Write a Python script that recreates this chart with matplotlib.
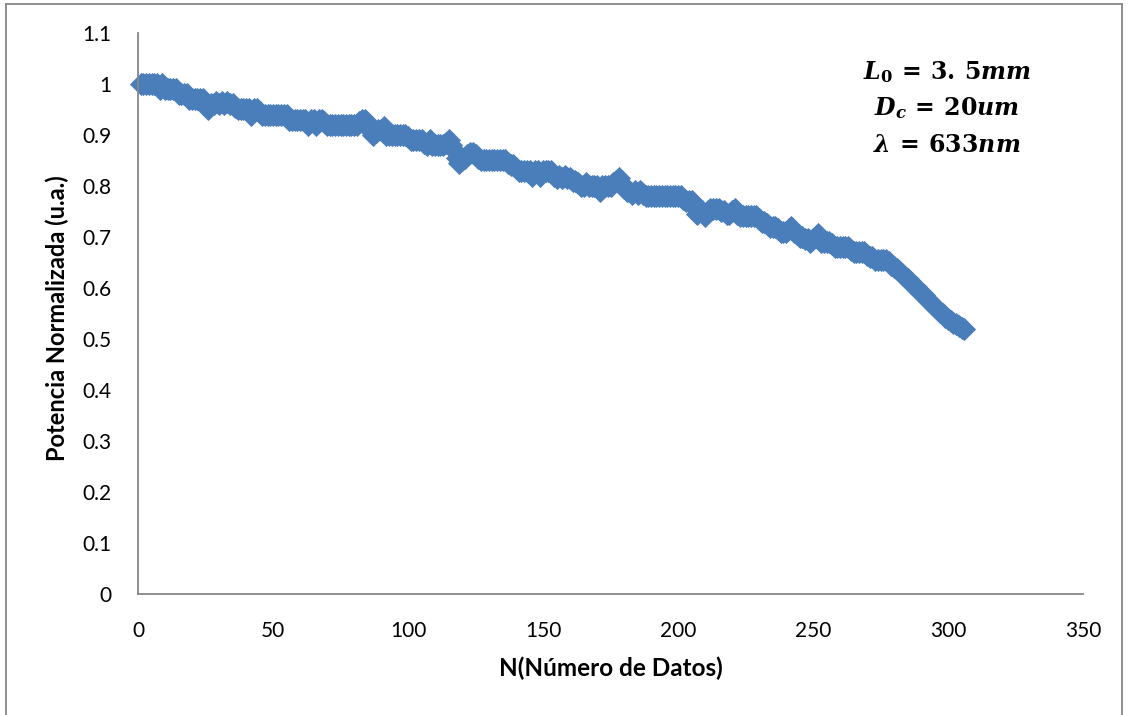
import matplotlib
matplotlib.use("Agg")
import matplotlib.pyplot as plt
from matplotlib.lines import Line2D

# ---------------- data ----------------
x_first = 1
potencia = [
    1.00, 1.00, 1.00, 1.00, 1.00, 1.00, 1.00, 0.99, 1.00, 0.99,
    0.99, 0.99, 0.99, 0.99, 0.98, 0.98, 0.98, 0.98, 0.97, 0.97,
    0.97, 0.97, 0.97, 0.97, 0.96, 0.95, 0.96, 0.96, 0.965, 0.96,
    0.965, 0.96, 0.965, 0.96, 0.96, 0.955, 0.95, 0.95, 0.95, 0.95,
    0.95, 0.94, 0.95, 0.95, 0.945, 0.94, 0.94, 0.94, 0.94, 0.94,
    0.94, 0.94, 0.94, 0.94, 0.94, 0.93, 0.93, 0.93, 0.93, 0.93,
    0.93, 0.93, 0.92, 0.93, 0.93, 0.92, 0.93, 0.93, 0.925, 0.92,
    0.92, 0.92, 0.92, 0.92, 0.92, 0.92, 0.92, 0.92, 0.92, 0.92,
    0.92, 0.925, 0.93, 0.93, 0.92, 0.91, 0.90, 0.905, 0.91, 0.91,
    0.915, 0.90, 0.90, 0.90, 0.90, 0.90, 0.90, 0.90, 0.90, 0.895,
    0.89, 0.89, 0.89, 0.89, 0.89, 0.885, 0.88, 0.89, 0.88, 0.88,
    0.88, 0.88, 0.88, 0.885, 0.89, 0.88, 0.87, 0.855, 0.845, 0.85,
    0.855, 0.86, 0.865, 0.865, 0.86, 0.855, 0.85, 0.85, 0.85, 0.85,
    0.85, 0.85, 0.85, 0.85, 0.85, 0.85, 0.845, 0.84, 0.84, 0.835,
    0.83, 0.83, 0.83, 0.83, 0.83, 0.82, 0.83, 0.83, 0.82, 0.83,
    0.83, 0.83, 0.83, 0.82, 0.815, 0.82, 0.815, 0.82, 0.815, 0.815,
    0.81, 0.81, 0.805, 0.80, 0.80, 0.805, 0.80, 0.80, 0.80, 0.80,
    0.79, 0.80, 0.80, 0.80, 0.80, 0.805, 0.81, 0.815, 0.805, 0.795,
    0.79, 0.79, 0.785, 0.79, 0.785, 0.79, 0.785, 0.78, 0.78, 0.78,
    0.78, 0.78, 0.78, 0.78, 0.78, 0.78, 0.78, 0.78, 0.78, 0.78,
    0.78, 0.775, 0.77, 0.77, 0.77, 0.76, 0.745, 0.75, 0.75, 0.74,
    0.75, 0.755, 0.755, 0.755, 0.755, 0.75, 0.75, 0.745, 0.745, 0.75,
    0.755, 0.745, 0.74, 0.74, 0.74, 0.74, 0.74, 0.74, 0.74, 0.735,
    0.73, 0.73, 0.725, 0.72, 0.72, 0.72, 0.715, 0.71, 0.71, 0.71,
    0.715, 0.72, 0.71, 0.705, 0.70, 0.70, 0.695, 0.695, 0.69, 0.695,
    0.70, 0.705, 0.69, 0.69, 0.69, 0.69, 0.685, 0.68, 0.68, 0.68,
    0.68, 0.68, 0.68, 0.675, 0.67, 0.67, 0.67, 0.67, 0.67, 0.665,
    0.66, 0.66, 0.655, 0.655, 0.655, 0.655, 0.655, 0.65, 0.645, 0.64,
    0.637, 0.633, 0.628, 0.622, 0.617, 0.612, 0.606, 0.601, 0.596, 0.59,
    0.585, 0.579, 0.574, 0.568, 0.563, 0.558, 0.553, 0.548, 0.543, 0.539,
    0.535, 0.531, 0.528, 0.525, 0.522, 0.52,
]
n_datos = list(range(x_first, x_first + len(potencia)))

x_ticks = [0, 50, 100, 150, 200, 250, 300, 350]
x_tick_labels = ["0", "50", "100", "150", "200", "250", "300", "350"]
y_ticks = [0, 0.1, 0.2, 0.3, 0.4, 0.5, 0.6, 0.7, 0.8, 0.9, 1.0, 1.1]
y_tick_labels = ["0", "0.1", "0.2", "0.3", "0.4", "0.5", "0.6", "0.7",
                 "0.8", "0.9", "1", "1.1"]
x_label = "N(Número de Datos)"
y_label = "Potencia Normalizada (u.a.)"
param_lines = [r"$L_0 \,=\, 3.\,5mm$", r"$D_c \,=\, 20um$", r"$\lambda \,=\, 633nm$"]

# ---------------- style ----------------
plt.rcParams["font.family"] = ["Lato", "DejaVu Sans"]
plt.rcParams["mathtext.fontset"] = "custom"
plt.rcParams["mathtext.rm"] = "DejaVu Serif:bold"
plt.rcParams["mathtext.it"] = "DejaVu Serif:italic:bold"
plt.rcParams["mathtext.bf"] = "DejaVu Serif:bold"

W, H = 1129, 715
fig = plt.figure(figsize=(W / 100, H / 100), dpi=100)
ax = fig.add_axes([138 / W, 1 - 593.5 / H, (1083 - 138) / W, (593.5 - 33) / H])

series_color = "#4A7EBB"
ax.plot(n_datos, potencia, linestyle="none", marker="D", markersize=11.5,
        markerfacecolor=series_color, markeredgecolor=series_color,
        markeredgewidth=0.6, clip_on=False)

ax.set_xlim(0, 350)
ax.set_ylim(0, 1.1)
ax.set_xticks(x_ticks)
ax.set_xticklabels(x_tick_labels)
ax.set_yticks(y_ticks)
ax.set_yticklabels(y_tick_labels)
ax.tick_params(axis="both", length=0, labelsize=15, colors="black")
ax.tick_params(axis="x", pad=20)
ax.tick_params(axis="y", pad=19)

for side in ("top", "right"):
    ax.spines[side].set_visible(False)
for side in ("left", "bottom"):
    ax.spines[side].set_color("#868686")
    ax.spines[side].set_linewidth(1.3)

fig.text(611 / W, 1 - 668 / H, x_label, ha="center", va="center",
         fontsize=17.5, fontweight="bold")
fig.text(57 / W, 1 - 318 / H, y_label, ha="center", va="center",
         rotation=90, fontsize=17, fontweight="bold")

for txt, yc in zip(param_lines, [72, 108, 145]):
    fig.text(947 / W, 1 - yc / H, txt, ha="center", va="center", fontsize=17)

# outer chart border
border_color = "#868686"
fig.add_artist(Line2D([5.5 / W, 5.5 / W], [0, 1 - 3.5 / H], color=border_color,
                      lw=1.3, transform=fig.transFigure))
fig.add_artist(Line2D([5.5 / W, 1122 / W], [1 - 3.5 / H, 1 - 3.5 / H],
                      color=border_color, lw=1.3, transform=fig.transFigure))
fig.add_artist(Line2D([1122 / W, 1122 / W], [0, 1 - 3.5 / H], color=border_color,
                      lw=1.3, transform=fig.transFigure))

fig.savefig("out.png", dpi=100)
